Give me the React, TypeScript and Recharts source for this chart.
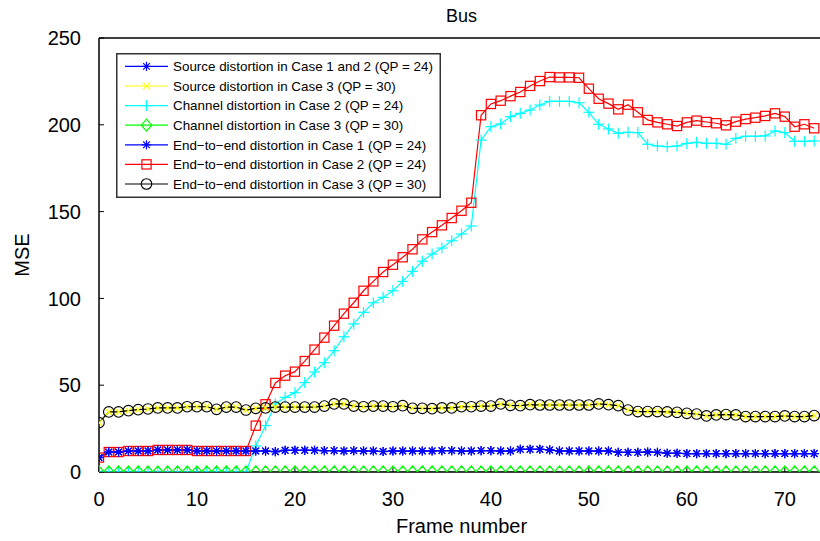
import React from 'react';
import { LineChart, Line, XAxis, YAxis, Legend } from 'recharts';

// ---------- data ----------
const frames = [
  0, 1, 2, 3, 4, 5, 6, 7, 8, 9, 10, 11, 12, 13, 14, 15, 16, 17, 18, 19, 20, 21, 22, 23, 24,
  25, 26, 27, 28, 29, 30, 31, 32, 33, 34, 35, 36, 37, 38, 39, 40, 41, 42, 43, 44, 45, 46, 47, 48,
  49, 50, 51, 52, 53, 54, 55, 56, 57, 58, 59, 60, 61, 62, 63, 64, 65, 66, 67, 68, 69, 70, 71, 72, 73,
];

const sourceCase12 = [
  8.3, 11.5, 11.5, 12.1, 12.1, 12.1, 12.7, 12.7, 12.7, 12.7, 12.1, 12.1, 12.1, 12.1, 12.1, 12.1,
  12.1, 12.1, 11.7, 12.5, 12.5, 12.5, 12.5, 12.3, 12.3, 12.1, 12.3, 12.1, 12.1, 11.8, 12.1, 12.1,
  12.1, 12.1, 12.1, 12.3, 12.3, 12.1, 12.1, 12.3, 12.3, 12.1, 12.1, 13.1, 13.1, 13.1, 12.7, 12.1,
  12.1, 12.1, 12.1, 12.1, 12.1, 11.3, 11.3, 11.3, 11.5, 11.3, 10.8, 10.8, 10.6, 10.6, 10.6, 10.6,
  10.6, 10.6, 10.6, 10.6, 10.6, 10.6, 10.6, 10.6, 10.6, 10.6,
];

const sourceCase3 = [
  28.4, 34.6, 34.6, 35.3, 35.9, 36.3, 36.9, 36.9, 36.9, 37.6, 37.6, 37.6, 36.1, 37.4, 37.4, 35.7,
  36.7, 36.9, 37.4, 37.4, 37.4, 37.4, 37.4, 38.0, 39.2, 39.2, 38.0, 37.6, 38.0, 38.0, 37.6, 38.2,
  36.7, 36.7, 36.5, 36.9, 36.9, 37.6, 37.6, 38.0, 38.0, 39.2, 38.4, 38.2, 38.8, 38.6, 38.6, 38.6,
  38.6, 38.6, 38.6, 39.2, 38.8, 38.2, 35.7, 34.8, 34.8, 34.8, 34.6, 34.4, 33.8, 33.4, 32.3, 32.9,
  33.1, 32.9, 31.9, 31.9, 31.9, 31.9, 32.3, 31.9, 31.9, 32.5,
];

const channelCase2 = [
  0, 0, 0, 0, 0, 0, 0, 0, 0, 0, 0, 0, 0, 0, 0, 0,
  15.0, 26.7, 39.2, 43.0, 45.7, 51.5, 57.6, 63.0, 69.9, 77.9, 85.3, 92.0, 97.5, 100.6, 104.4, 109.8,
  115.6, 121.4, 125.6, 129.0, 133.2, 137.1, 141.7, 191.2, 198.9, 200.5, 204.7, 206.6, 208.5, 211.4,
  213.5, 213.5, 213.5, 212.7, 207.2, 200.3, 197.6, 195.1, 195.7, 195.5, 188.8, 187.8, 187.4, 187.8,
  189.3, 189.9, 189.3, 189.3, 188.8, 192.2, 193.4, 193.4, 193.6, 196.4, 195.5, 190.5, 190.5, 190.7,
];

const channelCase3 = [
  0, 0, 0, 0, 0, 0, 0, 0, 0, 0, 0, 0, 0, 0, 0, 0, 0, 0, 0, 0, 0, 0, 0, 0, 0,
  0, 0, 0, 0, 0, 0, 0, 0, 0, 0, 0, 0, 0, 0, 0, 0, 0, 0, 0, 0, 0, 0, 0, 0, 0,
  0, 0, 0, 0, 0, 0, 0, 0, 0, 0, 0, 0, 0, 0, 0, 0, 0, 0, 0, 0, 0, 0, 0, 0,
];

const endToEndCase1 = [
  8.3, 11.5, 11.5, 12.1, 12.1, 12.1, 12.7, 12.7, 12.7, 12.7, 12.1, 12.1, 12.1, 12.1, 12.1, 12.1,
  12.1, 12.1, 11.7, 12.5, 12.5, 12.5, 12.5, 12.3, 12.3, 12.1, 12.3, 12.1, 12.1, 11.8, 12.1, 12.1,
  12.1, 12.1, 12.1, 12.3, 12.3, 12.1, 12.1, 12.3, 12.3, 12.1, 12.1, 13.1, 13.1, 13.1, 12.7, 12.1,
  12.1, 12.1, 12.1, 12.1, 12.1, 11.3, 11.3, 11.3, 11.5, 11.3, 10.8, 10.8, 10.6, 10.6, 10.6, 10.6,
  10.6, 10.6, 10.6, 10.6, 10.6, 10.6, 10.6, 10.6, 10.6, 10.6,
];

const endToEndCase2 = [
  8.3, 11.5, 11.5, 12.1, 12.1, 12.1, 12.7, 12.7, 12.7, 12.7, 12.1, 12.1, 12.1, 12.1, 12.1, 12.1,
  26.7, 39.0, 51.3, 55.5, 57.8, 63.9, 70.5, 77.4, 84.3, 91.2, 97.5, 104.4, 109.8, 115.2, 119.4, 123.7,
  128.3, 134.0, 138.2, 142.1, 146.3, 150.5, 155.1, 205.5, 212.0, 213.9, 216.5, 218.9, 222.4, 225.2,
  227.5, 227.3, 227.3, 227.1, 220.8, 215.0, 212.2, 208.9, 211.6, 207.2, 202.8, 201.4, 200.3, 199.3,
  201.4, 202.4, 201.6, 200.9, 199.7, 201.8, 203.3, 204.1, 205.1, 206.6, 204.7, 198.9, 200.3, 198.0,
];

const endToEndCase3 = [
  28.4, 34.6, 34.6, 35.3, 35.9, 36.3, 36.9, 36.9, 36.9, 37.6, 37.6, 37.6, 36.1, 37.4, 37.4, 35.7,
  36.7, 36.9, 37.4, 37.4, 37.4, 37.4, 37.4, 38.0, 39.2, 39.2, 38.0, 37.6, 38.0, 38.0, 37.6, 38.2,
  36.7, 36.7, 36.5, 36.9, 36.9, 37.6, 37.6, 38.0, 38.0, 39.2, 38.4, 38.2, 38.8, 38.6, 38.6, 38.6,
  38.6, 38.6, 38.6, 39.2, 38.8, 38.2, 35.7, 34.8, 34.8, 34.8, 34.6, 34.4, 33.8, 33.4, 32.3, 32.9,
  33.1, 32.9, 31.9, 31.9, 31.9, 31.9, 32.3, 31.9, 31.9, 32.5,
];

const xTicks = [0, 10, 20, 30, 40, 50, 60, 70];
const yTicks = [0, 50, 100, 150, 200, 250];
const xDomain = [0, 74];
const yDomain = [0, 250];

const title = 'Bus';
const xLabel = 'Frame number';
const yLabel = 'MSE';

type MarkerType = 'star' | 'x' | 'plus' | 'diamond' | 'square' | 'circle';

const SERIES: { key: string; name: string; color: string; marker: MarkerType; values: number[] }[] = [
  { key: 'src12', name: 'Source distortion in Case 1 and 2 (QP = 24)', color: '#0000ff', marker: 'star', values: sourceCase12 },
  { key: 'src3', name: 'Source distortion in Case 3 (QP = 30)', color: '#ffff00', marker: 'x', values: sourceCase3 },
  { key: 'ch2', name: 'Channel distortion in Case 2 (QP = 24)', color: '#00ffff', marker: 'plus', values: channelCase2 },
  { key: 'ch3', name: 'Channel distortion in Case 3 (QP = 30)', color: '#00ff00', marker: 'diamond', values: channelCase3 },
  { key: 'e2e1', name: 'End\u2212to\u2212end distortion in Case 1 (QP = 24)', color: '#0000ff', marker: 'star', values: endToEndCase1 },
  { key: 'e2e2', name: 'End\u2212to\u2212end distortion in Case 2 (QP = 24)', color: '#ff0000', marker: 'square', values: endToEndCase2 },
  { key: 'e2e3', name: 'End\u2212to\u2212end distortion in Case 3 (QP = 30)', color: '#000000', marker: 'circle', values: endToEndCase3 },
];

const DRAW_ORDER = ['ch2', 'ch3', 'e2e2', 'src12', 'e2e1', 'src3', 'e2e3'];

const data = frames.map((f, i) => {
  const row: Record<string, number> = { frame: f };
  SERIES.forEach((s) => {
    row[s.key] = s.values[i];
  });
  return row;
});

const FONT = '"Liberation Sans", Arial, Helvetica, sans-serif';

// ---------- markers ----------
function Marker({ type, cx, cy, color }: { type: MarkerType; cx: number; cy: number; color: string }) {
  const sw = 1.2;
  if (cx == null || cy == null || isNaN(cx) || isNaN(cy)) return null;
  switch (type) {
    case 'star': {
      const r = 4.6;
      const d = 3.3;
      return (
        <g stroke={color} strokeWidth={sw} fill="none">
          <line x1={cx - r} y1={cy} x2={cx + r} y2={cy} />
          <line x1={cx} y1={cy - r} x2={cx} y2={cy + r} />
          <line x1={cx - d} y1={cy - d} x2={cx + d} y2={cy + d} />
          <line x1={cx - d} y1={cy + d} x2={cx + d} y2={cy - d} />
        </g>
      );
    }
    case 'x': {
      const d = 3.6;
      return (
        <g stroke={color} strokeWidth={sw} fill="none">
          <line x1={cx - d} y1={cy - d} x2={cx + d} y2={cy + d} />
          <line x1={cx - d} y1={cy + d} x2={cx + d} y2={cy - d} />
        </g>
      );
    }
    case 'plus': {
      const r = 5.5;
      return (
        <g stroke={color} strokeWidth={sw} fill="none">
          <line x1={cx - r} y1={cy} x2={cx + r} y2={cy} />
          <line x1={cx} y1={cy - r} x2={cx} y2={cy + r} />
        </g>
      );
    }
    case 'diamond':
      return (
        <path
          d={`M${cx},${cy - 6}L${cx + 5.2},${cy}L${cx},${cy + 6}L${cx - 5.2},${cy}Z`}
          stroke={color}
          strokeWidth={sw}
          fill="none"
        />
      );
    case 'square':
      return <rect x={cx - 4.6} y={cy - 4.6} width={9.2} height={9.2} stroke={color} strokeWidth={sw} fill="none" />;
    case 'circle':
      return <circle cx={cx} cy={cy} r={5.3} stroke={color} strokeWidth={1.1} fill="none" />;
    default:
      return null;
  }
}

// ---------- legend ----------
function LegendBox() {
  const w = 325;
  const h = 145;
  const rowH = 19.6;
  return (
    <svg width={w} height={h} style={{ display: 'block' }}>
      <rect x={0.75} y={0.75} width={w - 1.5} height={h - 1.5} fill="#ffffff" stroke="#333333" strokeWidth={1.5} />
      {SERIES.map((s, i) => {
        const cy = 13.4 + rowH * i;
        return (
          <g key={s.key}>
            <line x1={9} y1={cy} x2={52} y2={cy} stroke={s.color} strokeWidth={1.2} />
            <Marker type={s.marker} cx={30.5} cy={cy} color={s.color} />
            <text x={57} y={cy + 4.8} fontSize={13.4} fontFamily={FONT} fill="#000">
              {s.name}
            </text>
          </g>
        );
      })}
    </svg>
  );
}

// ---------- labels ----------
const TitleLabel = (props: any) => {
  const vb = props.viewBox || {};
  return (
    <text x={vb.x + vb.width / 2} y={vb.y + 13.5} textAnchor="middle" fontSize={18} fontFamily={FONT} fill="#000">
      {title}
    </text>
  );
};

const YLabel = (props: any) => {
  const vb = props.viewBox || {};
  const x = vb.x + 29;
  const y = vb.y + vb.height / 2;
  return (
    <text x={x} y={y} transform={`rotate(-90, ${x}, ${y})`} textAnchor="middle" fontSize={20} fontFamily={FONT} fill="#000">
      {yLabel}
    </text>
  );
};

export default function App() {
  const tickStyle = { fontSize: 20, fill: '#000', fontFamily: FONT };
  const axisLine = { stroke: '#000', strokeWidth: 1.5 };
  const tickLine = { stroke: '#000', strokeWidth: 1 };
  return (
    <div
      style={{
        position: 'absolute',
        left: 0,
        top: 0,
        width: 820,
        height: 541,
        overflow: 'hidden',
        background: '#ffffff',
        fontFamily: FONT,
      }}
    >
      <LineChart width={830} height={541} data={data} margin={{ top: 8, right: 0, bottom: 0, left: 0 }}>
        <XAxis
          xAxisId="bottom"
          dataKey="frame"
          type="number"
          domain={xDomain}
          ticks={xTicks}
          orientation="bottom"
          height={69}
          tickSize={-5}
          tickMargin={25}
          tick={tickStyle}
          axisLine={axisLine}
          tickLine={tickLine}
          allowDataOverflow
          label={{ value: xLabel, position: 'insideBottom', offset: 8, fontSize: 20, fill: '#000', fontFamily: FONT }}
        />
        <XAxis
          xAxisId="top"
          dataKey="frame"
          type="number"
          domain={xDomain}
          ticks={xTicks}
          orientation="top"
          height={30}
          tickSize={-5}
          tickMargin={0}
          tick={false}
          axisLine={axisLine}
          tickLine={tickLine}
          allowDataOverflow
          label={<TitleLabel />}
        />
        <YAxis
          yAxisId="left"
          type="number"
          domain={yDomain}
          ticks={yTicks}
          orientation="left"
          width={99}
          tickSize={-5}
          tickMargin={23}
          tick={tickStyle}
          axisLine={axisLine}
          tickLine={tickLine}
          allowDataOverflow
          label={<YLabel />}
        />
        <YAxis
          yAxisId="right"
          type="number"
          domain={yDomain}
          ticks={yTicks}
          orientation="right"
          width={6}
          tickSize={-5}
          tickMargin={0}
          tick={false}
          axisLine={axisLine}
          tickLine={tickLine}
          allowDataOverflow
        />
        <Legend
          layout="vertical"
          align="center"
          verticalAlign="middle"
          wrapperStyle={{ left: 116, top: 53, width: 325, height: 145, margin: 0, padding: 0 }}
          content={() => <LegendBox />}
        />
        {DRAW_ORDER.map((k) => {
          const s = SERIES.find((x) => x.key === k)!;
          return (
            <Line
              key={s.key}
              xAxisId="bottom"
              yAxisId="left"
              type="linear"
              dataKey={s.key}
              name={s.name}
              stroke={s.color}
              strokeWidth={1.2}
              isAnimationActive={false}
              activeDot={false}
              dot={(p: any) => <Marker key={`${s.key}-${p.index}`} type={s.marker} cx={p.cx} cy={p.cy} color={s.color} />}
            />
          );
        })}
      </LineChart>
    </div>
  );
}
